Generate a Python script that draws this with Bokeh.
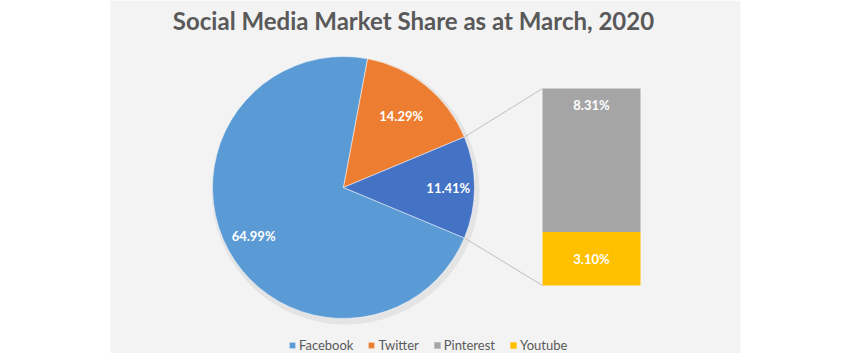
import numpy as np
from bokeh.plotting import figure
from bokeh.models import Range1d, Legend, LegendItem, BoxAnnotation, ColumnDataSource
from bokeh.core.properties import value
from bokeh.embed import file_html
from bokeh.resources import INLINE

# ---- data ----
pie_labels = ["Facebook", "Twitter", "Other"]
pie_values = [64.99, 14.29, 11.41]
pie_colors = ["#5b9bd5", "#ed7d31", "#4472c4"]
bar_labels = ["Pinterest", "Youtube"]
bar_values = [8.31, 3.10]
bar_colors = ["#a5a5a5", "#ffc000"]
title = "Social Media Market Share as at March, 2020"

W, H = 850, 353
FONT = "Lato"

p = figure(width=W, height=H, output_backend="svg", toolbar_location=None,
           x_range=Range1d(0, W), y_range=Range1d(0, H), min_border=0,
           background_fill_color="white", border_fill_color="white",
           outline_line_color=None)
p.axis.visible = False
p.grid.visible = False

# textured panel background
p.add_layout(BoxAnnotation(left=110, right=740, bottom=0, top=H,
                           fill_color="#f3f3f3", fill_alpha=1, line_color=None, level="underlay"))

# ---- pie ----
cx, cy, r = 343, 166, 131
vals = np.array(pie_values)
frac = vals / vals.sum()
ang = frac * 2 * np.pi
# "Other" slice centred on 3 o'clock; slices go counter-clockwise: Other, Twitter, Facebook
a = -ang[2] / 2
st = [0] * 3
en = [0] * 3
for i in [2, 1, 0]:
    st[i] = a
    en[i] = a + ang[i]
    a += ang[i]

# soft shadow
p.circle(x=[cx + 2], y=[cy - 3], radius=r + 3, fill_color="#000000", fill_alpha=0.06, line_color=None)

pie_src = ColumnDataSource(dict(start=st, end=en, color=pie_colors, label=pie_labels))
pie_r = p.wedge(x=cx, y=cy, radius=r, start_angle="start", end_angle="end",
                fill_color="color", line_color="white", line_width=0.5, source=pie_src)

# pie labels
lab_r = [0.78, 0.70, 0.80]
mid = [(s + e) / 2 for s, e in zip(st, en)]
lx = [cx + lr * r * np.cos(m) for lr, m in zip(lab_r, mid)]
ly = [cy + lr * r * np.sin(m) for lr, m in zip(lab_r, mid)]
p.text(x=lx, y=ly, text=[f"{v:.2f}%" for v in pie_values], text_color="white",
       text_font=value(FONT), text_font_style="bold", text_font_size="13px",
       text_align="center", text_baseline="middle")

# ---- stacked bar ----
bx0, bx1 = 542, 640
by_bottom, by_top = 68, 265
scale = (by_top - by_bottom) / sum(bar_values)
bottoms, tops = [], []
acc = by_bottom
for v in reversed(bar_values):
    bottoms.insert(0, acc)
    tops.insert(0, acc + v * scale)
    acc += v * scale
bar_src = ColumnDataSource(dict(left=[bx0] * 2, right=[bx1] * 2, bottom=bottoms, top=tops,
                                color=bar_colors, label=bar_labels))
bar_r = p.quad(left="left", right="right", bottom="bottom", top="top",
               fill_color="color", line_color=None, source=bar_src)
p.text(x=[(bx0 + bx1) / 2] * 2,
       y=[tops[0] - 16, (bottoms[1] + tops[1]) / 2],
       text=[f"{v:.2f}%" for v in bar_values], text_color="white",
       text_font=value(FONT), text_font_style="bold", text_font_size="13px",
       text_align="center", text_baseline="middle")

# connector lines
p.segment(x0=[cx + r * np.cos(en[2]), cx + r * np.cos(st[2])],
          y0=[cy + r * np.sin(en[2]), cy + r * np.sin(st[2])],
          x1=[bx0, bx0], y1=[by_top, by_bottom], line_color="#bfbfbf", line_width=1)

# ---- title ----
p.text(x=[W / 2 - 12], y=[H - 20], text=[title], text_color="#595959",
       text_font=value(FONT), text_font_style="bold", text_font_size="24px",
       text_align="center", text_baseline="middle")

# ---- legend ----
legend = Legend(items=[
    LegendItem(label="Facebook", renderers=[pie_r], index=0),
    LegendItem(label="Twitter", renderers=[pie_r], index=1),
    LegendItem(label="Pinterest", renderers=[bar_r], index=0),
    LegendItem(label="Youtube", renderers=[bar_r], index=1),
], orientation="horizontal", location=(288, 0), padding=0, margin=0,
    glyph_width=8, glyph_height=8, label_standoff=3, spacing=14, label_height=14,
    label_text_font=FONT, label_text_font_size="13px", label_text_color="#595959",
    background_fill_alpha=0, border_line_color=None)
p.add_layout(legend, "center")

open("out.html", "w").write(file_html(p, INLINE))
